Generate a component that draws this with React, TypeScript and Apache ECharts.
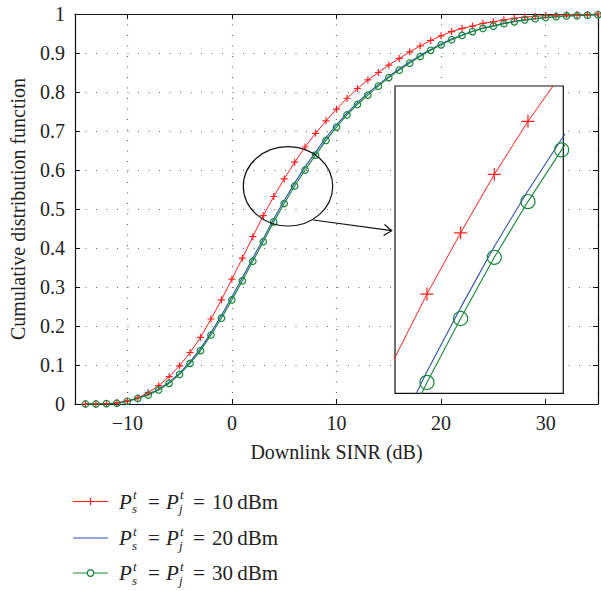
import React, { useEffect, useRef } from "react";
import * as echarts from "echarts";

const sinr = [
  -14, -13, -12, -11, -10, -9, -8, -7, -6, -5, -4, -3, -2, -1, 0, 1, 2, 3, 4, 5,
  6, 7, 8, 9, 10, 11, 12, 13, 14, 15, 16, 17, 18, 19, 20, 21, 22, 23, 24, 25,
  26, 27, 28, 29, 30, 31, 32, 33, 34, 35,
];

const cdf10 = [
  0.0, 0.0, 0.001, 0.003, 0.008, 0.016, 0.029, 0.047, 0.07, 0.098, 0.132, 0.171,
  0.218, 0.267, 0.32, 0.374, 0.429, 0.483, 0.532, 0.577, 0.62, 0.659, 0.694,
  0.726, 0.756, 0.784, 0.809, 0.831, 0.85, 0.869, 0.886, 0.903, 0.918, 0.932,
  0.944, 0.955, 0.963, 0.969, 0.976, 0.98, 0.985, 0.989, 0.992, 0.994, 0.996,
  0.997, 0.998, 0.999, 0.999, 1.0,
];

const cdf20 = [
  0.0, 0.0, 0.001, 0.002, 0.007, 0.015, 0.025, 0.038, 0.056, 0.079, 0.108, 0.142,
  0.183, 0.227, 0.275, 0.324, 0.374, 0.424, 0.475, 0.522, 0.567, 0.608, 0.646,
  0.683, 0.716, 0.746, 0.773, 0.797, 0.819, 0.84, 0.859, 0.877, 0.894, 0.909,
  0.923, 0.936, 0.946, 0.956, 0.964, 0.97, 0.976, 0.981, 0.985, 0.988, 0.991,
  0.993, 0.995, 0.996, 0.997, 0.998,
];

const cdf30 = [
  0.0, 0.0, 0.001, 0.002, 0.007, 0.014, 0.023, 0.036, 0.053, 0.076, 0.104, 0.137,
  0.177, 0.22, 0.267, 0.316, 0.366, 0.416, 0.467, 0.514, 0.559, 0.6, 0.638,
  0.676, 0.71, 0.741, 0.768, 0.792, 0.815, 0.837, 0.856, 0.874, 0.891, 0.907,
  0.921, 0.934, 0.945, 0.955, 0.963, 0.969, 0.975, 0.98, 0.985, 0.988, 0.991,
  0.993, 0.995, 0.996, 0.997, 0.998,
];

const seriesNames = ["10 dBm", "20 dBm", "30 dBm"];
const legendValues = ["10", "20", "30"];
const xTitle = "Downlink SINR (dB)";
const yTitle = "Cumulative distribution function";

const RED = "#ff1f1f";
const BLUE = "#2f4fb0";
const GREEN = "#17873b";
const FONT = "Liberation Serif";
const PLUS = "path://M0,5L10,5M5,0L5,10";

const pairs = (ys: number[]) => sinr.map((x, i) => [x, ys[i]]);

export default function App() {
  const ref = useRef<HTMLDivElement>(null);

  useEffect(() => {
    if (!ref.current) return;
    const chart = echarts.init(ref.current, undefined, { renderer: "svg" });

    const xLab = (v: number) =>
      v === -15 || v === 35 ? "" : String(v).replace("-", "\u2212");

    const mkSeries = (inset: boolean) => {
      const idx = inset ? 2 : 0;
      const z = inset ? 10 : 2;
      return [
        {
          name: seriesNames[0],
          type: "line",
          xAxisIndex: idx,
          yAxisIndex: idx,
          data: pairs(cdf10),
          z,
          clip: true,
          symbol: PLUS,
          symbolSize: inset ? 13 : 7,
          showAllSymbol: true,
          lineStyle: { color: RED, width: 1 },
          itemStyle: { color: "rgba(0,0,0,0)", borderColor: RED, borderWidth: 1.2 },
        },
        {
          name: seriesNames[1],
          type: "line",
          xAxisIndex: idx,
          yAxisIndex: idx,
          data: pairs(cdf20),
          z,
          clip: true,
          symbol: "none",
          lineStyle: { color: BLUE, width: 1.1 },
          itemStyle: { color: BLUE },
        },
        {
          name: seriesNames[2],
          type: "line",
          xAxisIndex: idx,
          yAxisIndex: idx,
          data: pairs(cdf30),
          z,
          clip: true,
          symbol: "circle",
          symbolSize: inset ? 14 : 6.5,
          showAllSymbol: true,
          lineStyle: { color: GREEN, width: 1.1 },
          itemStyle: { color: "rgba(0,0,0,0)", borderColor: GREEN, borderWidth: 1.2 },
        },
      ];
    };

    const legendRows = [501.5, 538, 573];
    const legendGraphics: any[] = [];
    legendRows.forEach((cy, i) => {
      const color = [RED, BLUE, GREEN][i];
      legendGraphics.push({
        type: "line",
        shape: { x1: 73, y1: cy, x2: 108, y2: cy },
        style: { stroke: color, lineWidth: 1.2 },
      });
      if (i === 0) {
        legendGraphics.push({
          type: "line",
          shape: { x1: 87, y1: cy, x2: 94, y2: cy },
          style: { stroke: color, lineWidth: 1.2 },
        });
        legendGraphics.push({
          type: "line",
          shape: { x1: 90.5, y1: cy - 3.5, x2: 90.5, y2: cy + 3.5 },
          style: { stroke: color, lineWidth: 1.2 },
        });
      }
      if (i === 2) {
        legendGraphics.push({
          type: "circle",
          shape: { cx: 90.5, cy, r: 3.3 },
          style: { stroke: color, fill: "#fff", lineWidth: 1.2 },
        });
      }
      const base = { fontFamily: FONT, fill: "#222" };
      const txt = (x: number, y: number, text: string, size: number, italic: boolean) => ({
        type: "text",
        x,
        y,
        style: {
          ...base,
          text,
          fontSize: size,
          fontStyle: italic ? "italic" : "normal",
          textVerticalAlign: "middle",
        },
      });
      legendGraphics.push(txt(119, cy, "P", 21, true));
      legendGraphics.push(txt(133, cy - 7, "t", 13, true));
      legendGraphics.push(txt(132, cy + 7, "s", 13, true));
      legendGraphics.push(txt(148, cy, "=", 21, false));
      legendGraphics.push(txt(166, cy, "P", 21, true));
      legendGraphics.push(txt(180, cy - 7, "t", 13, true));
      legendGraphics.push(txt(179, cy + 7, "j", 13, true));
      legendGraphics.push(txt(193, cy, "=", 21, false));
      legendGraphics.push(txt(212, cy, legendValues[i] + "\u2009dBm", 21, false));
    });

    const axisLineStyle = { show: true, onZero: false, lineStyle: { color: "#111", width: 1.2 } };
    const tickStyle = { show: true, inside: true, length: 5, lineStyle: { color: "#111" } };
    const gridLine = { show: true, lineStyle: { color: "#666", width: 1.2, type: [1, 9.5] } };

    const option: any = {
      animation: false,
      backgroundColor: "#fff",
      textStyle: { fontFamily: FONT },
      grid: [
        { left: 73, top: 14, width: 526, height: 390, containLabel: false },
        { left: 395, top: 86, width: 168.3, height: 307.3, containLabel: false },
      ],
      xAxis: [
        {
          type: "value",
          gridIndex: 0,
          position: "bottom",
          min: -15,
          max: 35,
          splitNumber: 5,
          name: xTitle,
          nameLocation: "middle",
          nameGap: 38,
          nameTextStyle: { fontFamily: FONT, fontSize: 20, color: "#222" },
          axisLine: axisLineStyle,
          axisTick: tickStyle,
          axisLabel: { formatter: xLab, fontFamily: FONT, fontSize: 20, color: "#222", margin: 9 },
          splitLine: gridLine,
        },
        {
          type: "value",
          gridIndex: 0,
          position: "top",
          min: -15,
          max: 35,
          splitNumber: 5,
          axisLine: axisLineStyle,
          axisTick: tickStyle,
          axisLabel: { show: false },
          splitLine: { show: false },
        },
        {
          type: "value",
          gridIndex: 1,
          min: 3.05,
          max: 8.05,
          show: false,
          splitLine: { show: false },
        },
      ],
      yAxis: [
        {
          type: "value",
          gridIndex: 0,
          position: "left",
          min: 0,
          max: 1,
          interval: 0.1,
          name: yTitle,
          nameLocation: "middle",
          nameGap: 47,
          nameTextStyle: { fontFamily: FONT, fontSize: 20, color: "#222" },
          axisLine: axisLineStyle,
          axisTick: tickStyle,
          axisLabel: { fontFamily: FONT, fontSize: 20, color: "#222", margin: 10 },
          splitLine: gridLine,
        },
        {
          type: "value",
          gridIndex: 0,
          position: "right",
          min: 0,
          max: 1,
          interval: 0.1,
          axisLine: axisLineStyle,
          axisTick: tickStyle,
          axisLabel: { show: false },
          splitLine: { show: false },
        },
        {
          type: "value",
          gridIndex: 1,
          min: 0.459,
          max: 0.685,
          show: false,
          splitLine: { show: false },
        },
      ],
      series: [...mkSeries(false), ...mkSeries(true)],
      graphic: [
        {
          type: "rect",
          z: 5,
          shape: { x: 395, y: 86, width: 168.3, height: 307.3 },
          style: { fill: "#fff", stroke: "#111", lineWidth: 1.2 },
        },
        {
          type: "ellipse",
          z: 10,
          shape: { cx: 288, cy: 186.3, rx: 44.7, ry: 39.7 },
          style: { fill: "none", stroke: "#111", lineWidth: 1.2 },
        },
        {
          type: "line",
          z: 10,
          shape: { x1: 313.3, y1: 220, x2: 391.7, y2: 230.7 },
          style: { stroke: "#111", lineWidth: 1.2 },
        },
        {
          type: "polyline",
          z: 10,
          shape: { points: [[384.5, 224.5], [391.7, 230.7], [383.6, 235.6]] },
          style: { fill: "none", stroke: "#111", lineWidth: 1.2 },
        },
        ...legendGraphics,
      ],
    };

    chart.setOption(option);
    return () => chart.dispose();
  }, []);

  return (
    <div
      ref={ref}
      style={{ position: "fixed", left: 0, top: 0, width: 601, height: 591, background: "#fff" }}
    />
  );
}
